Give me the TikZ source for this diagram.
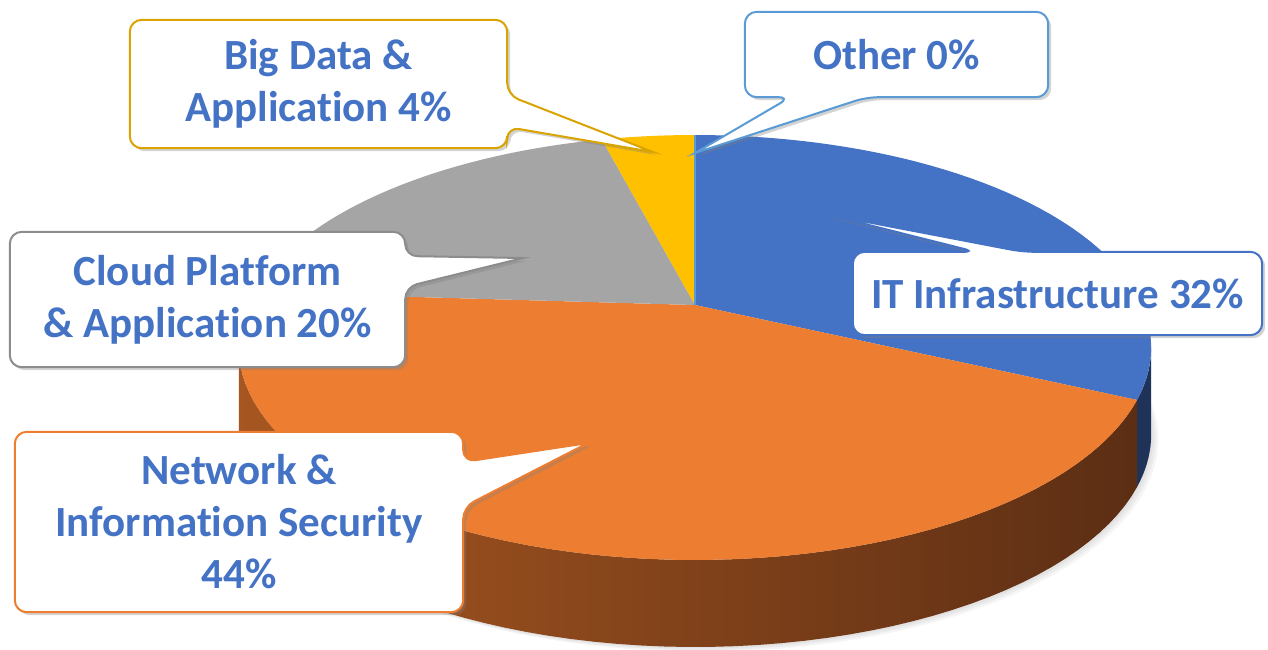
\documentclass[tikz,border=0pt]{standalone}
\usepackage{fontspec}
\setmainfont{Carlito}[Ligatures=NoCommon]
\usetikzlibrary{calc,shadows}
\definecolor{itblue}{HTML}{4472C4}
\definecolor{netorange}{HTML}{ED7D31}
\definecolor{cloudgrey}{HTML}{A5A5A5}
\definecolor{bdgold}{HTML}{FFC000}
\definecolor{otherblue}{HTML}{5B9BD5}
\definecolor{sideL}{HTML}{A65620}
\definecolor{sideM}{HTML}{6C3618}
\definecolor{sideR}{HTML}{5C2E14}
\pgfdeclarelayer{pie}
\pgfdeclarelayer{box}
\pgfsetlayers{pie,box,main}
\tikzstyle{lbl} = [text=itblue, font=\fontsize{43}{52}\selectfont\bfseries, align=center, inner sep=0pt]
\tikzstyle{callout} = [fill=white, line width=2pt, rounded corners=12pt, drop shadow={opacity=0.35, shadow xshift=3pt, shadow yshift=-3pt}]

\begin{document}
\begin{tikzpicture}[x=1pt, y=-1pt,
    declare function={px(\a)=695+447*sin(\a)/(1+0.2*cos(\a));
                       py(\a)=305-204*cos(\a)/(1+0.2*cos(\a));}]
  \useasboundingbox (0,0) rectangle (1268,649);

  \coordinate (ctr) at (695,305);
  \coordinate (ptop) at ({px(0)},{py(0)});

  % labels
  \node [lbl, minimum width=377pt, minimum height=128pt] (bigdata) at (318.5,84) {Big Data \&\\Application 4\%};
  \node [lbl, minimum width=303pt, minimum height=85pt] (other) at (896.5,54.5) {Other 0\%};
  \node [lbl, minimum width=395pt, minimum height=135pt] (cloud) at (207.5,299.5) {Cloud Platform\\\& Application 20\%};
  \node [lbl, minimum width=409pt, minimum height=83pt] (it) at (1057.5,293.5) {IT Infrastructure 32\%};
  \node [lbl, minimum width=448pt, minimum height=180pt] (net) at (239,522) {Network \&\\Information Security\\44\%};

  \coordinate (bdtip) at (653,152);
  \coordinate (othertip) at (695,153);
  \coordinate (cloudtip) at (523,258);
  \coordinate (ittip) at (825,214);
  \coordinate (nettip) at (588,443);

  % pie
  \begin{pgfonlayer}{pie}
    \foreach \s in {4,8,12}
      \fill [black, opacity=0.04] plot [domain=90:270, samples=60] ({px(\x)+0.6*\s},{py(\x)+87+0.4*\s}) -- cycle;
    \fill [itblue!45!black] plot [domain=101.5:115.2, samples=10] ({px(\x)},{py(\x)})
      -- plot [domain=115.2:101.5, samples=10] ({px(\x)},{py(\x)+87}) -- cycle;
    \shade [left color=sideL, middle color=sideM, right color=sideR]
      plot [domain=115.2:258.5, samples=60] ({px(\x)},{py(\x)})
      -- plot [domain=258.5:115.2, samples=60] ({px(\x)},{py(\x)+87}) -- cycle;
    \fill [itblue] (ctr) -- plot [domain=0:115.2, samples=50] ({px(\x)},{py(\x)}) -- cycle;
    \fill [netorange] (ctr) -- plot [domain=115.2:273.6, samples=70] ({px(\x)},{py(\x)}) -- cycle;
    \fill [cloudgrey] (ctr) -- plot [domain=273.6:345.6, samples=35] ({px(\x)},{py(\x)}) -- cycle;
    \fill [bdgold] (ctr) -- plot [domain=345.6:360, samples=10] ({px(\x)},{py(\x)}) -- cycle;
    \draw [otherblue, line width=2pt] (ctr) -- (ptop);
  \end{pgfonlayer}

  % callouts
  \begin{pgfonlayer}{box}
    \draw [callout, draw=bdgold!85!black] (bigdata.north west) -- (bigdata.north east)
      -- ($(bigdata.east)+(0,11)$) [sharp corners] -- (bdtip) [rounded corners=12pt]
      -- ($(bigdata.east)+(0,43)$) -- (bigdata.south east) -- (bigdata.south west) -- cycle;
    \draw [callout, draw=otherblue] (other.north west) -- (other.north east) -- (other.south east)
      -- ($(other.south)+(-30,0)$) [sharp corners] -- (othertip) [rounded corners=12pt]
      -- ($(other.south)+(-106,0)$) -- (other.south west) -- cycle;
    \draw [callout, draw=cloudgrey!85!black] (cloud.north west) -- (cloud.north east)
      -- ($(cloud.east)+(0,-43.5)$) [sharp corners] -- (cloudtip) [rounded corners=12pt]
      -- ($(cloud.east)+(0,-12.5)$) -- (cloud.south east) -- (cloud.south west) -- cycle;
    \draw [callout, draw=itblue] (it.north west)
      -- ($(it.north)+(-82,0)$) [sharp corners] -- (ittip) [rounded corners=12pt]
      -- ($(it.north)+(-35,0)$) -- (it.north east) -- (it.south east) -- (it.south west) -- cycle;
    \draw [callout, draw=netorange] (net.north west) -- (net.north east)
      -- ($(net.east)+(0,-60)$) [sharp corners] -- (nettip) [rounded corners=12pt]
      -- ($(net.east)+(0,-15)$) -- (net.south east) -- (net.south west) -- cycle;
  \end{pgfonlayer}
\end{tikzpicture}
\end{document}
